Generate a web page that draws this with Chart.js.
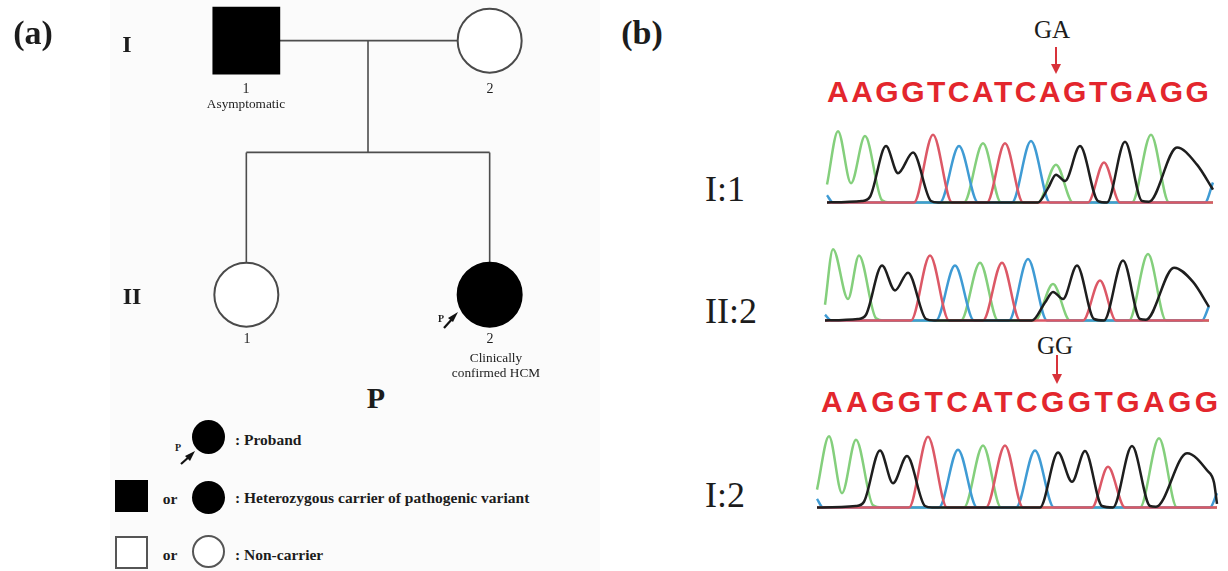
<!DOCTYPE html>
<html>
<head>
<meta charset="utf-8">
<script src="https://cdn.jsdelivr.net/npm/chart.js@4.4.1/dist/chart.umd.min.js"></script>
<style>
html, body { margin: 0; padding: 0; background: #fff; }
#page { position: relative; width: 1228px; height: 571px; overflow: hidden; font-family: "Liberation Serif", "Times New Roman", serif; color: #1c1c1c; }
#panelA { position: absolute; left: 110px; top: 0; width: 490px; height: 571px; background: #fbfbfb; }
canvas { position: absolute; }
.c { position: absolute; white-space: nowrap; line-height: 1; transform: translate(-50%, -50%); }
.l { position: absolute; white-space: nowrap; line-height: 1; transform: translateY(-50%); }
.b { font-weight: bold; }
.seq { font-family: "Liberation Sans", Arial, sans-serif; font-weight: bold; color: #e3262d; font-size: 30px; letter-spacing: 2.5px; }
.lab { font-size: 36px; }
.key { font-weight: bold; font-size: 15.5px; }
.small { font-size: 13.3px; }
.shape { position: absolute; box-sizing: border-box; }
svg { position: absolute; left: 0; top: 0; }
</style>
</head>
<body>
<div id="page">
  <div id="panelA"></div>

  <canvas id="pedigree" width="584" height="381" style="left:3px;top:0px"></canvas>
  <canvas id="chrom1" width="428" height="82" style="left:800px;top:124px"></canvas>
  <canvas id="chrom2" width="428" height="82" style="left:800px;top:242px"></canvas>
  <canvas id="chrom3" width="428" height="82" style="left:800px;top:429px"></canvas>

  <div class="c b" style="left:33px;top:33px;font-size:34px">(a)</div>
  <div class="c b" style="left:127px;top:44px;font-size:24px">I</div>
  <div class="c b" style="left:132px;top:296px;font-size:24px">II</div>
  <div class="c" style="left:246px;top:89px;font-size:14px">1</div>
  <div class="c small" style="left:246px;top:104px">Asymptomatic</div>
  <div class="c" style="left:490px;top:89px;font-size:14px">2</div>
  <div class="c" style="left:247px;top:339px;font-size:14px">1</div>
  <div class="c" style="left:490px;top:339px;font-size:14px">2</div>
  <div class="c small" style="left:496px;top:358px">Clinically</div>
  <div class="c small" style="left:496px;top:373px">confirmed HCM</div>
  <div class="c b" style="left:441px;top:319px;font-size:10px">P</div>
  <div class="c b" style="left:376px;top:398px;font-size:30px">P</div>

  <div class="shape" style="left:192px;top:420px;width:33px;height:34px;border-radius:50%;background:#000"></div>
  <div class="c b" style="left:178px;top:448px;font-size:10px">P</div>
  <div class="l key" style="left:235px;top:440px">: Proband</div>
  <div class="shape" style="left:115px;top:480px;width:33px;height:32px;background:#000"></div>
  <div class="c key" style="left:170px;top:499px">or</div>
  <div class="shape" style="left:192px;top:481px;width:33px;height:33px;border-radius:50%;background:#000"></div>
  <div class="l key" style="left:235px;top:498px">: Heterozygous carrier of pathogenic variant</div>
  <div class="shape" style="left:115px;top:536px;width:33px;height:33px;border:2px solid #555;background:#fff"></div>
  <div class="c key" style="left:170px;top:555px">or</div>
  <div class="shape" style="left:192px;top:535px;width:33px;height:33px;border-radius:50%;border:2px solid #555;background:#fff"></div>
  <div class="l key" style="left:235px;top:555px">: Non-carrier</div>

  <div class="c b" style="left:642px;top:33px;font-size:34px">(b)</div>
  <div class="c" style="left:1052px;top:29px;font-size:25px">GA</div>
  <div class="l seq" style="left:827px;top:92px">AAGGTCATCAGTGAGG</div>
  <div class="l lab" style="left:705px;top:189px">I:1</div>
  <div class="l lab" style="left:705px;top:311px">II:2</div>
  <div class="c" style="left:1055px;top:345px;font-size:25px">GG</div>
  <div class="l seq" style="left:821px;top:402px;letter-spacing:3.4px">AAGGTCATCGGTGAGG</div>
  <div class="l lab" style="left:705px;top:495px">I:2</div>

  <svg width="1228" height="571">
    <line x1="1056" y1="47" x2="1056" y2="66" stroke="#d8323a" stroke-width="2"/>
    <polygon points="1051,64 1061,64 1056,74" fill="#d8323a"/>
    <line x1="1057" y1="355" x2="1057" y2="376" stroke="#d8323a" stroke-width="2"/>
    <polygon points="1052,374 1062,374 1057,384" fill="#d8323a"/>
    <line x1="444" y1="328" x2="453" y2="318" stroke="#111" stroke-width="2.2"/>
    <polygon points="458,312 448,318 453,322" fill="#111"/>
    <line x1="181" y1="464" x2="190" y2="456" stroke="#111" stroke-width="2.2"/>
    <polygon points="195,451 185,456 190,461" fill="#111"/>
  </svg>
</div>

<script>
// pedigree: x = position in sibship, y = generation
const pedX = [1, 2, 1, 2];
const pedGen = [1, 1, 2, 2];
const pedSex = ['M', 'F', 'F', 'F'];
const pedAffected = [true, false, false, true];
const sibshipGen = 1.44;
const connectors = [
    [[1, 1], [2, 1]],                 // mating line
    [[1.5, 1], [1.5, sibshipGen]],    // line of descent
    [[1, sibshipGen], [2, sibshipGen]],
    [[1, sibshipGen], [1, 2]],
    [[2, sibshipGen], [2, 2]]
];

// chromatogram traces: [scan position, signal]
const i1_A = [[27,25],[38,100],[51,27],[65,93],[82,3],[90,0],[164,0],[183,83],[201,0],[238,0],[256,53],[273,0],[332,0],[351,95],[369,0],[413,0]];
const i1_G = [[27,0],[62,2],[70,8],[86,79],[98,41],[113,70],[131,2],[138,0],[238,0],[248,20],[256,39],[265,30],[280,79],[298,2],[307,0],[325,85],[342,2],[349,1],[377,77],[397,53],[413,18]];
const i1_T = [[27,0],[114,0],[133,95],[152,0],[187,0],[205,83],[223,0],[288,0],[304,56],[320,0],[413,0]];
const i1_C = [[27,10],[33,0],[140,0],[159,79],[178,0],[212,0],[231,86],[250,0],[405,0],[413,28]];

const ii2_A = [[25,22],[33,100],[48,30],[59,91],[76,3],[84,0],[161,0],[180,81],[198,0],[235,0],[253,51],[270,0],[329,0],[348,93],[366,0],[409,0]];
const ii2_G = [[25,0],[58,2],[66,8],[82,77],[95,42],[108,67],[126,2],[134,0],[232,0],[245,25],[253,40],[263,30],[277,77],[294,2],[304,0],[323,84],[340,2],[346,1],[374,74],[393,54],[409,19]];
const ii2_T = [[25,0],[111,0],[130,91],[149,0],[183,0],[202,81],[220,0],[283,0],[300,56],[316,0],[409,0]];
const ii2_C = [[25,8],[31,0],[136,0],[155,77],[174,0],[209,0],[228,86],[247,0],[402,0],[409,20]];

const i2_A = [[17,25],[29,100],[42,20],[56,95],[73,3],[82,0],[164,0],[183,87],[201,0],[340,0],[359,97],[377,0],[417,0]];
const i2_G = [[17,0],[56,2],[64,8],[80,80],[93,34],[107,72],[125,2],[132,0],[240,0],[258,77],[272,36],[285,79],[302,2],[313,0],[332,86],[350,2],[356,1],[387,76],[407,52],[414,35],[417,5]];
const i2_T = [[17,0],[109,0],[128,99],[147,0],[186,0],[205,87],[223,0],[292,0],[308,57],[325,0],[417,0]];
const i2_C = [[17,12],[23,0],[139,0],[158,81],[177,0],[216,0],[235,80],[254,0],[410,0],[417,20]];

const baseColors = { G: '#1e1e1e', A: '#84cf7c', T: '#dc5866', C: '#3f9bd4' };

Chart.defaults.animation = false;
Chart.defaults.events = [];

const toXY = pts => pts.map(p => ({ x: p[0], y: p[1] }));

const hiddenScales = (xMin, xMax, yMin, yMax, reverse) => ({
    x: { type: 'linear', display: false, min: xMin, max: xMax },
    y: { type: 'linear', display: false, min: yMin, max: yMax, reverse: reverse }
});

const basePlugins = { legend: { display: false }, tooltip: { enabled: false } };

// pedigree chart
const lineSets = connectors.map(seg => ({
    data: toXY(seg),
    showLine: true,
    borderColor: '#4d4d4d',
    borderWidth: 1.6,
    pointRadius: 0,
    clip: false
}));

new Chart(document.getElementById('pedigree'), {
    type: 'scatter',
    data: {
        datasets: [{
            data: pedX.map((x, i) => ({ x: x, y: pedGen[i] })),
            pointStyle: pedSex.map(s => s === 'M' ? 'rect' : 'circle'),
            pointRadius: pedSex.map(s => s === 'M' ? 46.5 : 32),
            backgroundColor: pedAffected.map(a => a ? '#000' : '#fff'),
            borderColor: pedAffected.map(a => a ? '#000' : '#4a4a4a'),
            borderWidth: 2,
            clip: false
        }].concat(lineSets)
    },
    options: {
        responsive: false,
        devicePixelRatio: 1,
        layout: { padding: 0, autoPadding: false },
        plugins: basePlugins,
        scales: hiddenScales(0, 2.4, 0.84, 2.34, true)
    }
});

// chromatograms
const drawChromatogram = (id, traces) => {
    new Chart(document.getElementById(id), {
        type: 'line',
        data: {
            datasets: ['G', 'T', 'C', 'A'].map(base => ({
                label: base,
                data: toXY(traces[base]),
                borderColor: baseColors[base],
                borderWidth: 2.5,
                pointRadius: 0,
                cubicInterpolationMode: 'monotone',
                fill: false,
                clip: false
            }))
        },
        options: {
            responsive: false,
            devicePixelRatio: 1,
            layout: { padding: 0, autoPadding: false },
            plugins: basePlugins,
            scales: hiddenScales(0, 428, -5, 110, false)
        }
    });
};

drawChromatogram('chrom1', { A: i1_A, G: i1_G, T: i1_T, C: i1_C });
drawChromatogram('chrom2', { A: ii2_A, G: ii2_G, T: ii2_T, C: ii2_C });
drawChromatogram('chrom3', { A: i2_A, G: i2_G, T: i2_T, C: i2_C });
</script>
</body>
</html>
